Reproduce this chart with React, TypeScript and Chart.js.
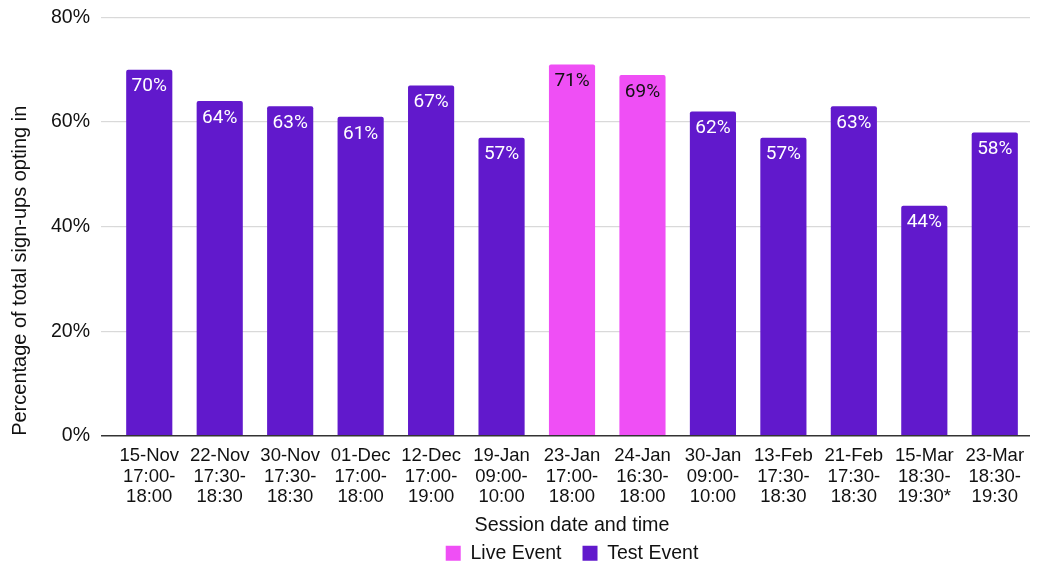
import React, { useEffect, useRef } from "react";
import { Chart, registerables } from "chart.js";

Chart.register(...registerables);

// Session labels (date / start time / end time)
const sessions: string[][] = [
  ["15-Nov", "17:00-", "18:00"],
  ["22-Nov", "17:30-", "18:30"],
  ["30-Nov", "17:30-", "18:30"],
  ["01-Dec", "17:00-", "18:00"],
  ["12-Dec", "17:00-", "19:00"],
  ["19-Jan", "09:00-", "10:00"],
  ["23-Jan", "17:00-", "18:00"],
  ["24-Jan", "16:30-", "18:00"],
  ["30-Jan", "09:00-", "10:00"],
  ["13-Feb", "17:30-", "18:30"],
  ["21-Feb", "17:30-", "18:30"],
  ["15-Mar", "18:30-", "19:30*"],
  ["23-Mar", "18:30-", "19:30"],
];

// Percentage of sign-ups opting in, per session type
const liveEvent: (number | null)[] = [null, null, null, null, null, null, 71, 69, null, null, null, null, null];
const testEvent: (number | null)[] = [70, 64, 63, 61, 67, 57, null, null, 62, 57, 63, 44, 58];

const yTicks: number[] = [0, 20, 40, 60, 80];

const PINK = "#ef4ff5";
const PURPLE = "#6119cc";
const AXIS_FONT = "'Liberation Sans', Arial, sans-serif";

// Writes each bar's value just inside its top edge
const barValueLabels = {
  id: "barValueLabels",
  afterDatasetsDraw(chart: any) {
    const { ctx } = chart;
    ctx.save();
    ctx.font = "19px Roboto, 'Noto Sans', sans-serif";
    ctx.textAlign = "center";
    ctx.textBaseline = "middle";
    chart.data.datasets.forEach((ds: any, di: number) => {
      const meta = chart.getDatasetMeta(di);
      meta.data.forEach((bar: any, i: number) => {
        const v = ds.data[i];
        if (v === null || v === undefined) return;
        ctx.fillStyle = ds.labelColor;
        ctx.fillText(`${v}%`, bar.x, bar.y + 17);
      });
    });
    ctx.restore();
  },
};

export default function App() {
  const canvasRef = useRef<HTMLCanvasElement | null>(null);

  useEffect(() => {
    document.body.style.margin = "0";
    const canvas = canvasRef.current;
    if (!canvas) return;
    const chart = new Chart(canvas, {
      type: "bar",
      data: {
        labels: sessions,
        datasets: [
          {
            label: "Live Event",
            data: liveEvent,
            backgroundColor: PINK,
            borderRadius: 2,
            borderSkipped: "bottom",
            grouped: false,
            barPercentage: 0.655,
            categoryPercentage: 1,
            labelColor: "#111111",
          } as any,
          {
            label: "Test Event",
            data: testEvent,
            backgroundColor: PURPLE,
            borderRadius: 2,
            borderSkipped: "bottom",
            grouped: false,
            barPercentage: 0.655,
            categoryPercentage: 1,
            labelColor: "#ffffff",
          } as any,
        ],
      },
      options: {
        animation: false,
        responsive: false,
        maintainAspectRatio: false,
        layout: { padding: { left: 0, right: 8, top: 0, bottom: -8 } },
        scales: {
          x: {
            grid: { display: false, drawTicks: false },
            border: { display: false },
            ticks: {
              color: "#111111",
              font: { family: AXIS_FONT, size: 18.5, lineHeight: 1.108 },
              maxRotation: 0,
              autoSkip: false,
              padding: 10,
            },
            title: {
              display: true,
              text: "Session date and time",
              color: "#111111",
              font: { family: AXIS_FONT, size: 19.7 },
              padding: { top: -3.5, bottom: -15 },
            },
          },
          y: {
            min: 0,
            max: 80,
            afterBuildTicks: (scale: any) => {
              scale.ticks = yTicks.map((v) => ({ value: v }));
            },
            border: { display: false },
            grid: {
              color: (c: any) => (c.tick && c.tick.value === 0 ? "#333333" : "#d9d9d9"),
              tickColor: (c: any) => (c.tick && c.tick.value === 0 ? "#333333" : "#d9d9d9"),
              lineWidth: (c: any) => (c.tick && c.tick.value === 0 ? 1.5 : 1.2),
              tickLength: 13,
              drawTicks: true,
            },
            ticks: {
              color: "#111111",
              font: { family: AXIS_FONT, size: 19.5, lineHeight: 0.66 },
              padding: 11,
              callback: (v: any) => `${v}%`,
            },
            title: {
              display: true,
              text: "Percentage of total sign-ups opting in",
              align: "start",
              color: "#111111",
              font: { family: AXIS_FONT, size: 20 },
              padding: { top: 8, bottom: 8 },
            },
          },
        },
        plugins: {
          legend: {
            position: "bottom",
            fullSize: false,
            labels: {
              color: "#111111",
              font: { family: AXIS_FONT, size: 19.5 },
              boxWidth: 15,
              boxHeight: 15,
              padding: 21,
            },
          },
          tooltip: { enabled: false },
        },
      } as any,
      plugins: [barValueLabels],
    });
    return () => chart.destroy();
  }, []);

  return (
    <div style={{ width: 1038, height: 565 }}>
      <canvas ref={canvasRef} width={1038} height={565} style={{ display: "block" }} />
    </div>
  );
}
